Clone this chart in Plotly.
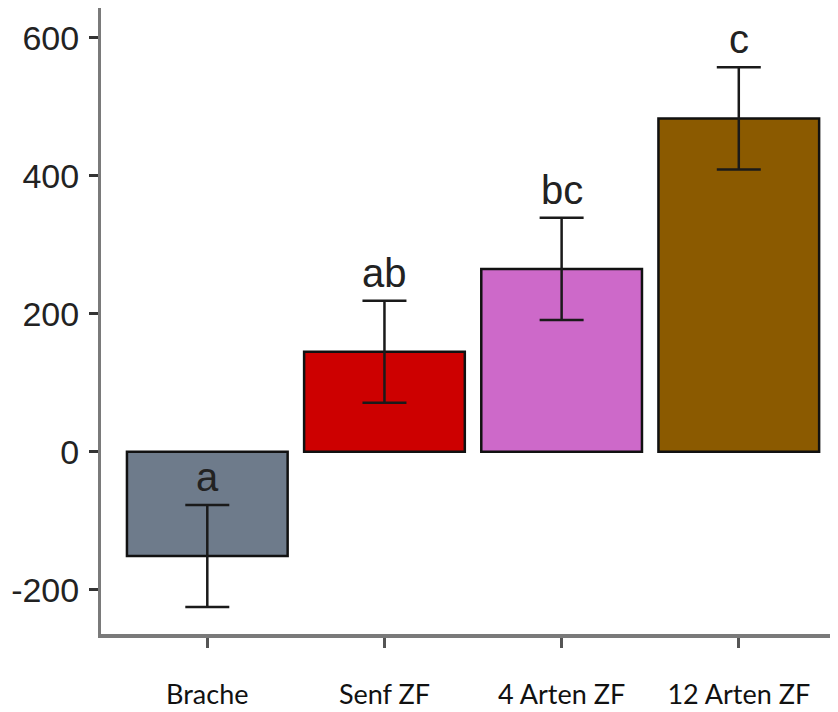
import plotly.graph_objects as go

categories = ["Brache", "Senf ZF", "4 Arten ZF", "12 Arten ZF"]
means = [-151, 145, 265, 483]
errors = [74, 74, 74, 74]
letters = ["a", "ab", "bc", "c"]
colors = ["#6E7B8B", "#CD0000", "#CD69C9", "#8B5A00"]
y_tickvals = [-200, 0, 200, 400, 600]
y_ticktext = ["-200", "0", "200", "400", "600"]

fig = go.Figure()
fig.add_trace(go.Bar(
    x=categories, y=means,
    marker=dict(color=colors, line=dict(color="#111111", width=2.5)),
    error_y=dict(type="data", array=errors, visible=True,
                 color="#1a1a1a", thickness=2.5, width=22),
    showlegend=False,
))

for c, m, e, l in zip(categories, means, errors, letters):
    fig.add_annotation(x=c, y=m + e, text=l, showarrow=False,
                       yanchor="middle", yshift=28,
                       font=dict(family="Arial, Liberation Sans", size=40, color="#222222"))

fig.update_layout(
    width=830, height=704,
    margin=dict(l=93, r=0, t=0, b=78),
    paper_bgcolor="white", plot_bgcolor="white",
    bargap=0.093,
)
fig.update_xaxes(
    range=[-0.6, 3.56], showgrid=False, zeroline=False, automargin=False,
    showline=True, linecolor="#7a7a7a", linewidth=3.5,
    ticks="outside", ticklen=10, tickwidth=3, tickcolor="#555555",
    tickfont=dict(family="Lato, Carlito, sans-serif", size=27, color="#111111"),
    ticklabelstandoff=24,
)
fig.update_yaxes(
    range=[-264, 643], showgrid=False, zeroline=False, automargin=False,
    showline=True, linecolor="#7a7a7a", linewidth=3,
    ticks="outside", ticklen=9, tickwidth=3, tickcolor="#333333",
    tickvals=y_tickvals, ticktext=y_ticktext,
    tickfont=dict(family="Arial, Liberation Sans", size=34, color="#222222"),
    ticklabelstandoff=3,
)

fig.write_html("out.html")
